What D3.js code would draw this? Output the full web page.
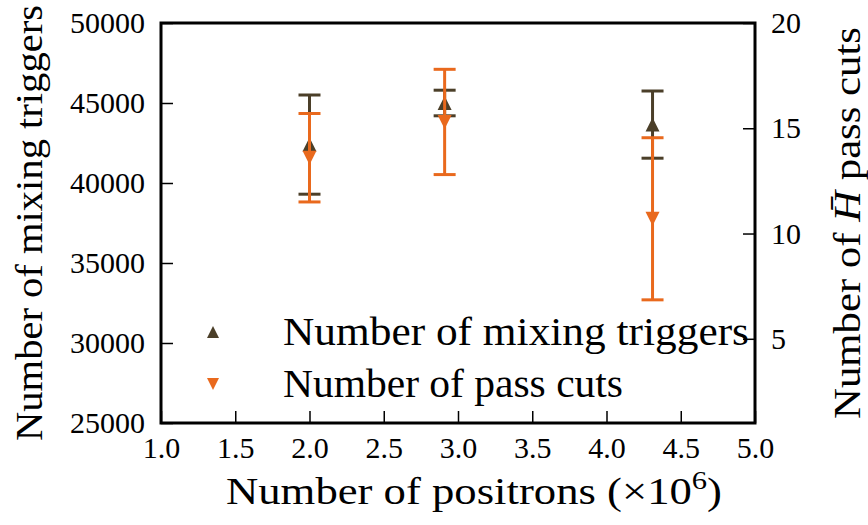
<!DOCTYPE html>
<html>
<head>
<meta charset="utf-8">
<script src="https://cdn.jsdelivr.net/npm/d3@7"></script>
<style>
  body { margin: 0; background: #fff; }
  text { font-family: "Liberation Serif", "DejaVu Serif", serif; fill: #000; }
</style>
</head>
<body>
<div id="chart"></div>
<script>
// data
var positrons = [2.0, 2.91, 4.31];              // x, in units of 1e6
var triggers = [42400, 45000, 43650];           // left axis
var triggersErr = [3100, 800, 2100];
var passCuts = [13.6, 15.3, 10.7];              // right axis
var passCutsErr = [2.1, 2.5, 3.85];

var xTicks = [1.0, 1.5, 2.0, 2.5, 3.0, 3.5, 4.0, 4.5, 5.0];
var leftTicks = [25000, 30000, 35000, 40000, 45000, 50000];
var rightTicks = [5, 10, 15, 20];

var darkCol = "#4b3f29",
    orangeCol = "#e9691d";

var W = 868, H = 525;
var plot = { left: 161, right: 755, top: 23, bottom: 423 };

var svg = d3.select("#chart").append("svg")
    .attr("width", W)
    .attr("height", H);

var x = d3.scaleLinear().domain([1, 5]).range([plot.left, plot.right]);
var yL = d3.scaleLinear().domain([25000, 50000]).range([plot.bottom, plot.top]);
var yR = d3.scaleLinear().domain([1, 20]).range([plot.bottom, plot.top]);

// matplotlib style triangle (width == height)
var triUp = {
    draw: function(ctx, size) {
        var r = Math.sqrt(size) / 2;
        ctx.moveTo(0, -r); ctx.lineTo(r, r); ctx.lineTo(-r, r); ctx.closePath();
    }
};
var triDown = {
    draw: function(ctx, size) {
        var r = Math.sqrt(size) / 2;
        ctx.moveTo(0, r); ctx.lineTo(r, -r); ctx.lineTo(-r, -r); ctx.closePath();
    }
};
var markerSize = 14 * 14;

// axes, ticks pointing inward
function styleAxis(g, size) {
    g.select(".domain").remove();
    g.selectAll(".tick line").attr("stroke", "#000").attr("stroke-width", 1.5);
    g.selectAll(".tick text").attr("font-size", size).attr("font-family", "Liberation Serif");
}

svg.append("g")
    .attr("transform", "translate(" + plot.left + ",0)")
    .call(d3.axisLeft(yL).tickValues(leftTicks).tickFormat(d3.format("d"))
        .tickSizeInner(-12).tickSizeOuter(0).tickPadding(16))
    .call(styleAxis, 30);

svg.append("g")
    .attr("transform", "translate(" + plot.right + ",0)")
    .call(d3.axisRight(yR).tickValues(rightTicks).tickFormat(d3.format("d"))
        .tickSizeInner(-12).tickSizeOuter(0).tickPadding(16))
    .call(styleAxis, 30);

svg.append("g")
    .attr("transform", "translate(0," + plot.bottom + ")")
    .call(d3.axisBottom(x).tickValues(xTicks).tickFormat(d3.format(".1f"))
        .tickSizeInner(-12).tickSizeOuter(0).tickPadding(14))
    .call(styleAxis, 30);

// frame
svg.append("rect")
    .attr("x", plot.left).attr("y", plot.top)
    .attr("width", plot.right - plot.left).attr("height", plot.bottom - plot.top)
    .attr("fill", "none").attr("stroke", "#000").attr("stroke-width", 3);

// error bars + markers
function drawSeries(vals, errs, yScale, col, shape) {
    var g = svg.append("g");
    var pts = positrons.map(function(p, i) { return { x: p, y: vals[i], e: errs[i] }; });
    var cap = 11;

    g.selectAll("line.bar").data(pts).enter().append("line")
        .attr("x1", function(d) { return x(d.x); })
        .attr("x2", function(d) { return x(d.x); })
        .attr("y1", function(d) { return yScale(d.y - d.e); })
        .attr("y2", function(d) { return yScale(d.y + d.e); })
        .attr("stroke", col).attr("stroke-width", 3);

    [-1, 1].forEach(function(s) {
        g.selectAll("line.cap" + s).data(pts).enter().append("line")
            .attr("x1", function(d) { return x(d.x) - cap; })
            .attr("x2", function(d) { return x(d.x) + cap; })
            .attr("y1", function(d) { return yScale(d.y + s * d.e); })
            .attr("y2", function(d) { return yScale(d.y + s * d.e); })
            .attr("stroke", col).attr("stroke-width", 3);
    });

    g.selectAll("path").data(pts).enter().append("path")
        .attr("d", d3.symbol().type(shape).size(markerSize))
        .attr("transform", function(d) { return "translate(" + x(d.x) + "," + yScale(d.y) + ")"; })
        .attr("fill", col);
}

drawSeries(triggers, triggersErr, yL, darkCol, triUp);
drawSeries(passCuts, passCutsErr, yR, orangeCol, triDown);

// legend
var legend = [
    { label: "Number of mixing triggers", col: darkCol, shape: triUp, len: 466 },
    { label: "Number of pass cuts", col: orangeCol, shape: triDown, len: 340 }
];
var lg = svg.append("g").attr("transform", "translate(213,332)");
legend.forEach(function(d, i) {
    lg.append("path")
        .attr("d", d3.symbol().type(d.shape).size(12 * 12))
        .attr("transform", "translate(0," + (i * 52) + ")")
        .attr("fill", d.col);
    lg.append("text")
        .attr("x", 70).attr("y", i * 52 + 13)
        .attr("font-size", 39)
        .attr("textLength", d.len).attr("lengthAdjust", "spacingAndGlyphs")
        .text(d.label);
});

// axis titles
svg.append("text")
    .attr("transform", "translate(42," + ((plot.top + plot.bottom) / 2) + ") rotate(-90)")
    .attr("text-anchor", "middle")
    .attr("font-size", 38)
    .attr("textLength", 436).attr("lengthAdjust", "spacingAndGlyphs")
    .text("Number of mixing triggers");

var rt = svg.append("text")
    .attr("transform", "translate(860," + ((plot.top + plot.bottom) / 2) + ") rotate(-90)")
    .attr("text-anchor", "middle")
    .attr("font-size", 38)
    .attr("textLength", 392).attr("lengthAdjust", "spacingAndGlyphs");
rt.append("tspan").text("Number of ");
rt.append("tspan").attr("font-style", "italic").text("H\u0304");
rt.append("tspan").text(" pass cuts");

var xt = svg.append("text")
    .attr("x", 474).attr("y", 504)
    .attr("text-anchor", "middle")
    .attr("font-size", 38)
    .attr("textLength", 496).attr("lengthAdjust", "spacingAndGlyphs");
xt.append("tspan").text("Number of positrons (\u00d710");
xt.append("tspan").attr("font-size", 26).attr("dy", -15).text("6");
xt.append("tspan").attr("dy", 15).text(")");
</script>
</body>
</html>
